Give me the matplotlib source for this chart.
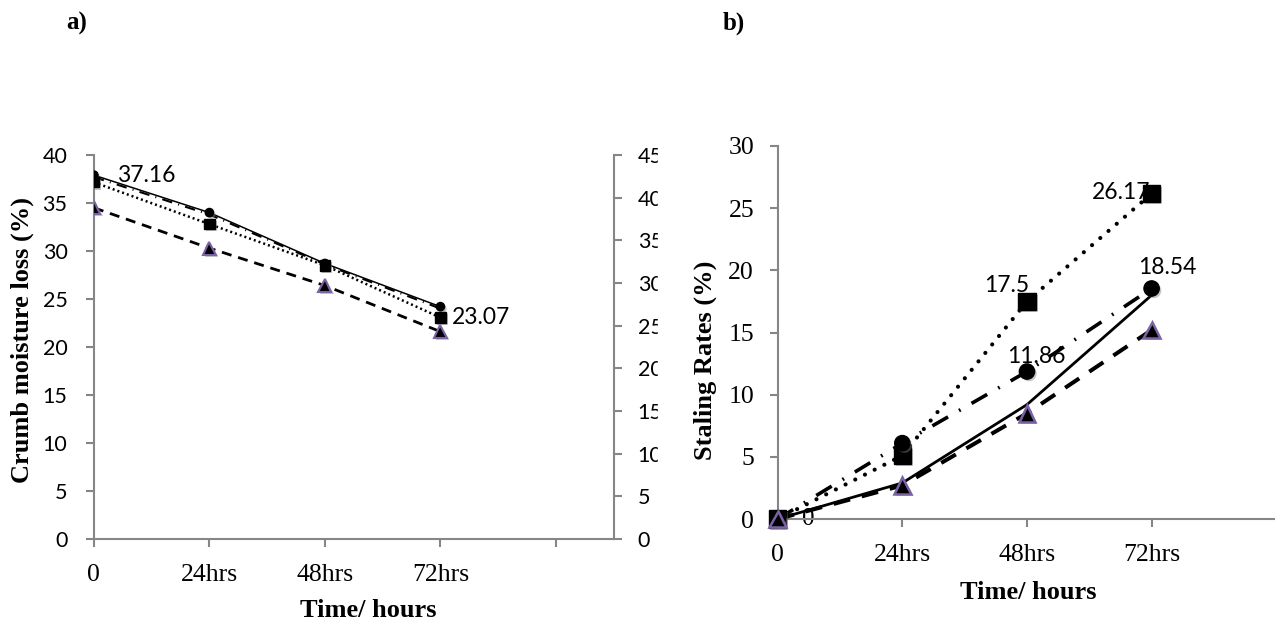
import matplotlib
matplotlib.use("Agg")
import matplotlib.pyplot as plt
from matplotlib.patches import Rectangle
from matplotlib import patheffects as pe

# data
times = ["0", "24hrs", "48hrs", "72hrs"]

# a) crumb moisture loss (%)
moist_solid = [37.9, 34.0, 28.7, 24.2]
moist_dashdot = [37.7, 33.8, 28.6, 24.0]
moist_dotted = [37.16, 32.8, 28.5, 23.07]
moist_dashed = [34.5, 30.3, 26.4, 21.6]

# b) staling rates (%)
stale_dotted = [0, 5.1, 17.5, 26.17]
stale_dashdot = [0, 6.1, 11.86, 18.54]
stale_solid = [0, 2.9, 9.2, 18.0]
stale_dashed = [0, 2.7, 8.5, 15.2]

W, H = 1275, 623
GREY = "#868686"
PURPLE = "#7b62a6"
SANS = "Lato"
SERIF = "Liberation Serif"
shadow = [pe.SimplePatchShadow(offset=(1.5, -1.5), shadow_rgbFace="grey", alpha=0.45),
          pe.Normal()]

fig = plt.figure(figsize=(W / 100, H / 100), dpi=100)
x = list(range(len(times)))


def style_axes(ax, sides):
    for s in ["top", "right", "left", "bottom"]:
        ax.spines[s].set_visible(s in sides)
        ax.spines[s].set_color(GREY)
        ax.spines[s].set_linewidth(1.5)
    ax.tick_params(colors=GREY, width=1.5, length=6, direction="out")


# ---------- panel a ----------
ax1 = fig.add_axes([93.9 / W, (H - 539) / H, 520.1 / W, 384 / H])
ax1.set_zorder(0)
style_axes(ax1, ["left", "bottom"])
ax1.set_xlim(0, 4.503)
ax1.set_ylim(0, 40)
ax1.set_yticks(range(0, 41, 5))
ax1.set_xticks(range(5))
ax1.set_xticklabels(times + [""], fontfamily=SERIF, fontsize=18.5, color="black")
for lab in ax1.get_yticklabels():
    lab.set_fontfamily(SANS)
    lab.set_fontsize(15.5)
    lab.set_color("black")
ax1.tick_params(axis="y", pad=13)
ax1.tick_params(axis="x", pad=12)
ax1.set_ylabel("Crumb moisture loss (%)", fontfamily=SERIF, fontweight="bold",
               fontsize=19, va="center", ha="center")
ax1.yaxis.set_label_coords(-0.138, 0.518)
ax1.set_xlabel("Time/ hours", fontfamily=SERIF, fontweight="bold",
               fontsize=19, va="center", ha="center")
ax1.xaxis.set_label_coords(0.527, -0.185)

ax1.plot(x, moist_dashdot, color="black", lw=1.5, ls=(0, (5, 3, 0.5, 3)), zorder=3)
ax1.plot(x, moist_solid, color="black", lw=1.1, zorder=3)
ax1.plot(x, moist_dotted, color="black", lw=1.8, ls=(0, (0.8, 1.2)), zorder=3)
ax1.plot(x, moist_dashed, color="black", lw=2, ls=(0, (3.6, 2.5)), zorder=3)
ax1.plot(x, moist_solid, ls="none", marker="o", ms=6, color="black",
         path_effects=shadow, zorder=4)
ax1.plot(x, moist_dotted, ls="none", marker="s", ms=7.5, color="black",
         path_effects=shadow, zorder=4)
ax1.plot(x, moist_dashed, ls="none", marker="^", ms=9.5, mfc="black",
         mec=PURPLE, mew=1.5, path_effects=shadow, zorder=4)

ax1.annotate(f"{moist_dotted[0]:.2f}", (x[0], moist_dotted[0]), xytext=(16.5, 5),
             textcoords="offset points", ha="left", va="center",
             fontfamily=SANS, fontsize=16.5, zorder=2)
ax1.annotate(f"{moist_dotted[3]:.2f}", (x[3], moist_dotted[3]), xytext=(8.6, 0),
             textcoords="offset points", ha="left", va="center",
             fontfamily=SANS, fontsize=16.5, zorder=2)

# secondary axis on the right of panel a
ax1r = ax1.twinx()
ax1r.set_zorder(0)
style_axes(ax1r, ["right"])
ax1r.set_ylim(0, 45)
ax1r.set_yticks(range(0, 46, 5))
for lab in ax1r.get_yticklabels():
    lab.set_fontfamily(SANS)
    lab.set_fontsize(15.5)
    lab.set_color("black")
ax1r.tick_params(axis="y", pad=11)

# panel b sits over the right edge of panel a
fig.add_artist(Rectangle((658 / W, 0), 1, 1, transform=fig.transFigure,
                         color="white", zorder=1))

# ---------- panel b ----------
ax2 = fig.add_axes([777.7 / W, (H - 519) / H, (W - 777.7) / W, 373 / H])
ax2.set_zorder(2)
ax2.patch.set_alpha(0)
style_axes(ax2, ["left", "bottom"])
ax2.set_xlim(0, 3.99)
ax2.set_ylim(0, 30)
ax2.set_yticks(range(0, 31, 5))
ax2.set_xticks(x)
ax2.set_xticklabels(times, fontfamily=SERIF, fontsize=18.5, color="black")
for lab in ax2.get_yticklabels():
    lab.set_fontfamily(SERIF)
    lab.set_fontsize(18.5)
    lab.set_color("black")
ax2.tick_params(axis="y", pad=11)
ax2.tick_params(axis="x", pad=12)
ax2.set_ylabel("Staling Rates (%)", fontfamily=SERIF, fontweight="bold",
               fontsize=19, va="center", ha="center")
ax2.yaxis.set_label_coords(-0.146, 0.426)
ax2.set_xlabel("Time/ hours", fontfamily=SERIF, fontweight="bold",
               fontsize=19, va="center", ha="center")
ax2.xaxis.set_label_coords(0.503, -0.196)

ax2.plot(x, stale_dotted, color="black", lw=3, ls=(0, (0.01, 2.6)),
         solid_capstyle="round", dash_capstyle="round", zorder=3, clip_on=False)
ax2.plot(x, stale_dashdot, color="black", lw=2.6, ls=(0, (5, 3.5, 0.5, 3.5)), zorder=3,
         clip_on=False)
ax2.plot(x, stale_solid, color="black", lw=2, zorder=3, clip_on=False)
ax2.plot(x, stale_dashed, color="black", lw=2.9, ls=(0, (4.2, 3)), zorder=3, clip_on=False)
ax2.plot(x, stale_dotted, ls="none", marker="s", ms=12.5, color="black",
         path_effects=shadow, zorder=4, clip_on=False)
ax2.plot(x, stale_dashdot, ls="none", marker="o", ms=11, color="black",
         path_effects=shadow, zorder=4, clip_on=False)
ax2.plot(x, stale_dashed, ls="none", marker="^", ms=12, mfc="black",
         mec=PURPLE, mew=1.8, path_effects=shadow, zorder=5, clip_on=False)

labels_b = [
    (stale_dotted, 3, "26.17", (-21.6, 0.7)),
    (stale_dotted, 2, "17.5", (-14.5, 11.8)),
    (stale_dashdot, 2, "11.86", (7, 10.5)),
    (stale_dashdot, 3, "18.54", (11, 14.8)),
]
for series, i, txt, off in labels_b:
    ax2.annotate(txt, (x[i], series[i]), xytext=off, textcoords="offset points",
                 ha="center", va="center", fontfamily=SANS, fontsize=16.5, zorder=2)
ax2.annotate("0", (x[0], stale_solid[0]), xytext=(21.8, 0), textcoords="offset points",
             ha="center", va="center", fontfamily=SERIF, fontsize=18, zorder=2)

fig.text(77 / W, 1 - 23 / H, "a)", fontfamily=SERIF, fontweight="bold",
         fontsize=18, ha="center", va="center")
fig.text(734 / W, 1 - 23 / H, "b)", fontfamily=SERIF, fontweight="bold",
         fontsize=18, ha="center", va="center")

fig.savefig("out.png", dpi=100, facecolor="white")
